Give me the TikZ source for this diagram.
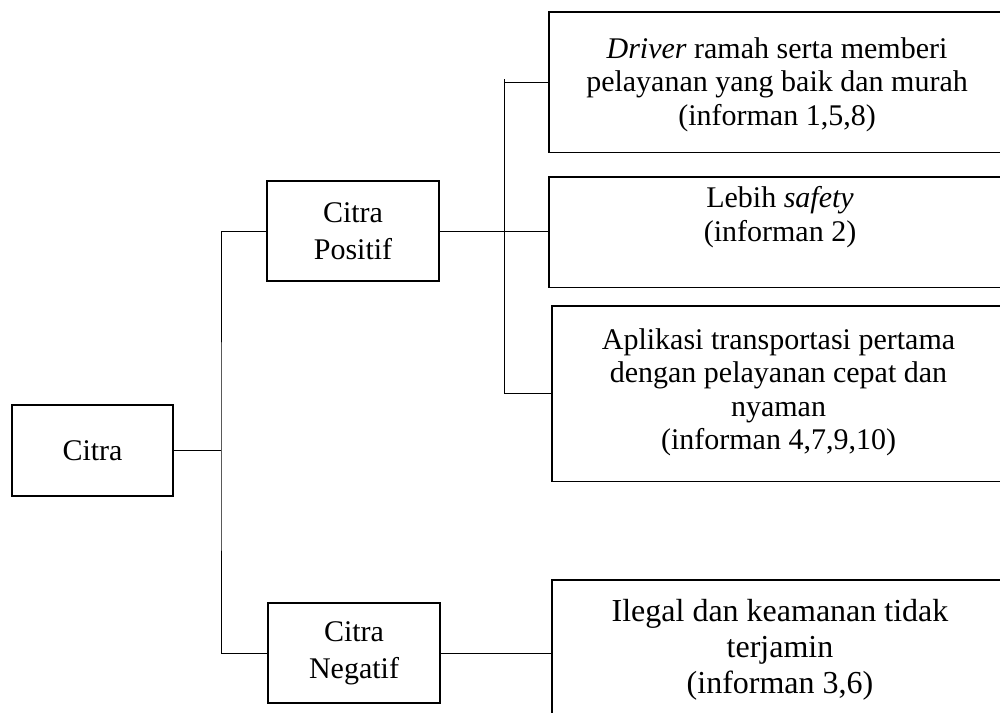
\documentclass[tikz,border=0pt]{standalone}
\usepackage{fontspec}
\setmainfont{Liberation Serif}
\tikzset{
  box/.style={draw=black, line width=0.9pt, rectangle, inner sep=0pt, align=center},
  openbox/.style={rectangle, inner sep=0pt},
  boxline/.style={draw=black, line width=0.9pt},
  txt/.style={inner sep=0pt, align=center},
  link/.style={draw=black, line width=0.45pt},
  basefont/.style={font=\fontsize{15}{16.75}\selectfont},
  catfont/.style={font=\fontsize{15}{18.5}\selectfont},
  bigfont/.style={font=\fontsize{16}{18}\selectfont}
}
\begin{document}
\begin{tikzpicture}[x=0.5pt,y=-0.5pt]
\useasboundingbox (0,0) rectangle (1000,712);
\clip (0,0) rectangle (1000,712);
\fill[white] (0,0) rectangle (1000,712);

% left boxes
\node[box, basefont, minimum width=80.5pt, minimum height=45.5pt] (citra) at (92.5,450.5) {Citra};
\node[box, catfont, minimum width=86pt, minimum height=50pt] (pos) at (353,231) {Citra\\Positif};
\node[box, catfont, minimum width=86pt, minimum height=50pt] (neg) at (354,653) {Citra\\Negatif};

% right boxes (running off the right edge)
\node[openbox, minimum width=250pt, minimum height=70pt, anchor=west] (d1) at (549,82) {};
\node[openbox, minimum width=250pt, minimum height=55pt, anchor=west] (d2) at (549,232) {};
\node[openbox, minimum width=250pt, minimum height=87.5pt, anchor=west] (d3) at (552,393.5) {};
\node[openbox, minimum width=250pt, minimum height=70pt, anchor=west] (d4) at (552,650) {};
\foreach \b in {d1,d2,d3,d4}{
  \draw[boxline] (\b.north east) -- (\b.north west) -- (\b.south west) -- (\b.south east);
}

% texts
\node[txt, basefont] (t1) at (777,84.5) {\textit{Driver} ramah serta memberi\\pelayanan yang baik dan murah\\(informan 1,5,8)};
\node[txt, basefont] (t2) at (780,217) {Lebih \textit{safety}\\(informan 2)};
\node[txt, basefont] (t3) at (778.5,392.5) {Aplikasi transportasi pertama\\dengan pelayanan cepat dan\\nyaman\\(informan 4,7,9,10)};
\node[txt, bigfont] (t4) at (780,650) {Ilegal dan keamanan tidak\\terjamin\\(informan 3,6)};

% connectors
\coordinate (trunk) at (221,450.5);
\coordinate (fork) at (504,231);
\draw[link] (citra.east) -- (trunk);
\draw[link] (pos.west) -| (trunk) |- (neg.west);
\draw[link] (pos.east) -- (pos.east -| d2.west);
\draw[link] ([yshift=1.5pt]fork |- d1.west) -- (fork |- d3.west) -- (d3.west);
\draw[link] (fork |- d1.west) -- (d1.west);
\draw[link] (neg.east) -- (neg.east -| d4.west);
\end{tikzpicture}
\end{document}
